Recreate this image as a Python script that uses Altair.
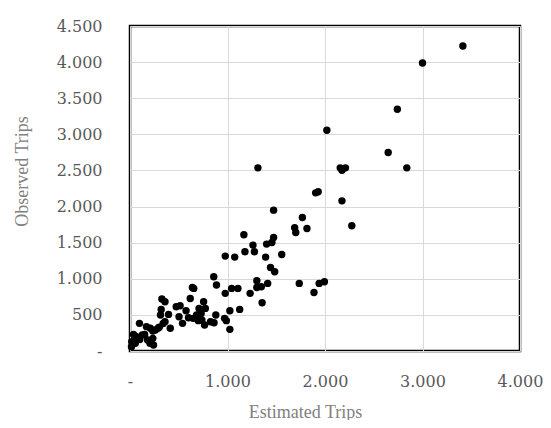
import altair as alt
import pandas as pd

estimated = [3414, 3000, 2742, 2019, 2648, 2839, 1312, 2156, 2210, 2174,
             1904, 1930, 2174, 1473, 1768, 2275, 1689, 1700, 1815, 1168,
             1261, 1179, 1276, 1401, 1455, 1473, 977, 1074, 1391, 1556,
             1441, 1484, 859, 887, 1301, 1301, 1347, 1412, 1736, 1887,
             1940, 1994, 1042, 1107, 977, 1232, 1355, 654, 640, 618,
             755, 327, 359, 320, 313, 395, 474, 514, 575, 503,
             539, 708, 773, 683, 647, 737, 765, 826, 862, 880,
             970, 988, 1024, 1125, 1024, 359, 413, 287, 234, 97,
             169, 208, 126, 36, 18, 54, 180, 205, 234, 241,
             15, 60, 100, 150, 260, 300, 340, 700, 730, 600]
observed = [4223, 3988, 3347, 3057, 2748, 2536, 2536, 2536, 2536, 2503,
            2190, 2204, 2079, 1950, 1849, 1734, 1706, 1641, 1697, 1609,
            1466, 1374, 1374, 1480, 1503, 1572, 1314, 1300, 1300, 1337,
            1157, 1097, 1028, 913, 973, 880, 890, 936, 936, 811,
            936, 959, 867, 867, 798, 798, 668, 867, 880, 728,
            682, 719, 682, 576, 498, 507, 613, 627, 558, 475,
            383, 590, 590, 498, 452, 429, 360, 406, 392, 498,
            452, 420, 558, 576, 300, 406, 314, 314, 277, 383,
            337, 314, 221, 230, 129, 106, 152, 106, 175, 83,
            60, 200, 160, 230, 290, 330, 380, 420, 520, 460]

df = pd.DataFrame({"Estimated": estimated, "Observed": observed})

x_ticks = [0, 1000, 2000, 3000, 4000]
y_ticks = [0, 500, 1000, 1500, 2000, 2500, 3000, 3500, 4000, 4500]
label_expr = "datum.value == 0 ? '-' : replace(format(datum.value, ','), ',', '.')"

chart = alt.Chart(df).mark_circle(size=55, color="black", opacity=1).encode(
    x=alt.X("Estimated:Q", scale=alt.Scale(domain=[0, 4000], nice=False),
            axis=alt.Axis(values=x_ticks, labelExpr=label_expr, title="Estimated Trips",
                          ticks=False, domain=False, labelPadding=22,
                          labelFont="DejaVu Serif", labelFontSize=16, labelColor="#595959",
                          titleFont="Liberation Serif", titleFontSize=18, titleFontWeight="normal",
                          titleColor="#7f7f7f", titleX=175, titleY=66, titleAnchor="middle",
                          titleAlign="center", titleBaseline="alphabetic",
                          gridColor="#d9d9d9", gridWidth=1, labelFlush=False)),
    y=alt.Y("Observed:Q", scale=alt.Scale(domain=[0, 4500], nice=False),
            axis=alt.Axis(values=y_ticks, labelExpr=label_expr, title="Observed Trips",
                          ticks=False, domain=False, labelPadding=28,
                          labelFont="DejaVu Serif", labelFontSize=16, labelColor="#595959",
                          titleFont="Liberation Serif", titleFontSize=18, titleFontWeight="normal",
                          titleColor="#7f7f7f", titleX=-108, titleY=145, titleAngle=270,
                          titleAlign="center", titleBaseline="middle",
                          gridColor="#d9d9d9", gridWidth=1, labelFlush=False)),
).properties(
    width=390, height=325,
    autosize=alt.AutoSizeParams(type="none"),
    padding={"left": 122, "top": 18, "right": 23, "bottom": 69},
).configure(background="white").configure_view(stroke="black", strokeWidth=2.5)

chart.save("out.html", embed_options={"renderer": "svg", "actions": False})
